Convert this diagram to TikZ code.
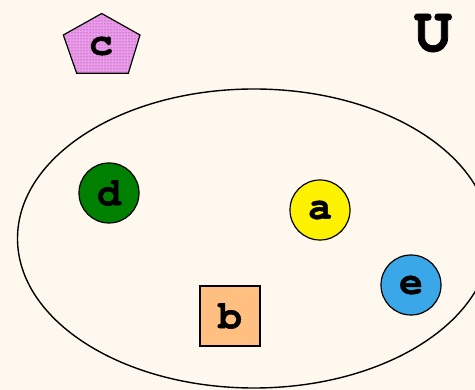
\documentclass[tikz,border=0pt]{standalone}
\usepackage{fontspec}
\newfontfamily\courfont{texgyrecursor}[Extension=.otf, UprightFont=*-regular, BoldFont=*-bold, BoldFeatures={FakeBold=1.2}]
\usetikzlibrary{shapes.geometric,patterns}
\definecolor{bg}{HTML}{FFF8EE}
\definecolor{pent}{HTML}{EE99EE}
\definecolor{dgreen}{HTML}{008000}
\definecolor{eblue}{HTML}{3AA8E8}
\definecolor{borange}{HTML}{FFBF80}
\tikzset{
  lbl/.style={font=\courfont\bfseries\fontsize{40}{40}\selectfont, text=black},
  elem/.style={circle, draw=black, line width=1.2pt, minimum size=60pt, inner sep=0pt, lbl},
}
\begin{document}
\begin{tikzpicture}[x=1pt,y=-1pt]
\fill[bg] (0,0) rectangle (475,390);
\useasboundingbox (0,0) rectangle (475,390);
\node[draw=black, line width=1.4pt, ellipse, minimum width=473pt, minimum height=299pt, inner sep=0pt] (univ) at (254,238.5) {};
\coordinate (p1) at (101.7,13.5);
\coordinate (p2) at (140,35);
\coordinate (p3) at (128.3,73.3);
\coordinate (p4) at (76.7,73.3);
\coordinate (p5) at (63.3,35);
\filldraw[draw=black, line width=1.2pt, fill=pent] (p1) -- (p2) -- (p3) -- (p4) -- (p5) -- cycle;
\fill[pattern=dots, pattern color=black!70] (p1) -- (p2) -- (p3) -- (p4) -- (p5) -- cycle;
\node[lbl] (c) at (101,46) {c};
\node[font=\courfont\bfseries\fontsize{64}{64}\selectfont] (U) at (433,33) {U};
\node[elem, fill=dgreen] (d) at (109,193) {d};
\node[elem, fill=yellow] (a) at (320,210) {a};
\node[elem, fill=eblue] (e) at (411,285) {e};
\node[rectangle, draw=black, line width=1.2pt, fill=borange, minimum size=60pt, inner sep=0pt, lbl] (b) at (230,316) {b};
\end{tikzpicture}
\end{document}
